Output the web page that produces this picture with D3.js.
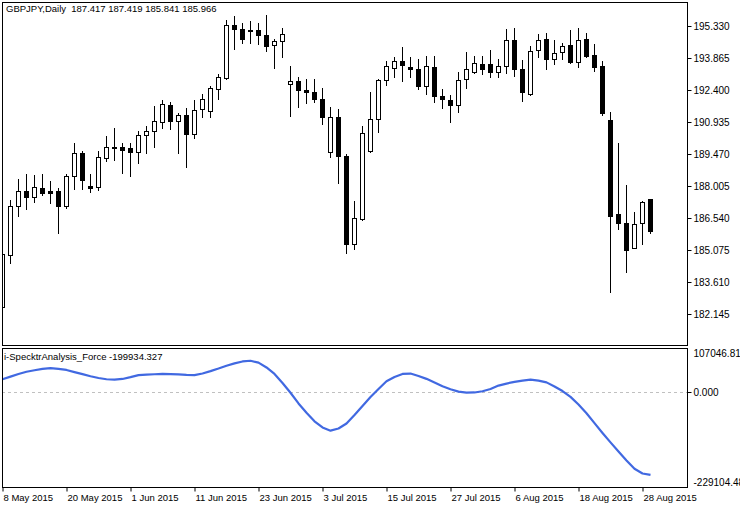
<!DOCTYPE html>
<html>
<head>
<meta charset="utf-8">
<script src="https://cdn.jsdelivr.net/npm/d3@7"></script>
<style>
  html, body { margin: 0; padding: 0; background: #ffffff; }
  svg text { font-family: "Liberation Sans", Arial, sans-serif; font-size: 9.5px; fill: #000; white-space: pre; }
  svg text.num { font-size: 10px; }
</style>
</head>
<body>
<svg id="chart" width="740" height="508"></svg>
<script>
// ---------------- data ----------------
const symbolTitle = "GBPJPY,Daily  187.417 187.419 185.841 185.966";
const indicatorTitle = "i-SpecktrAnalysis_Force -199934.327";

const openP = [
182.48, 184.83, 187.10, 187.76, 187.52, 187.90, 187.78, 187.78, 187.10, 188.45,
189.52, 188.00, 187.97, 189.27, 189.75, 189.79, 189.74, 189.58, 190.33, 190.51,
190.95, 191.71, 190.99, 191.26, 190.40, 191.52, 191.45, 192.46, 192.96, 195.36,
195.18, 195.14, 195.13, 194.90, 194.45, 194.63, 192.66, 192.81, 192.40, 192.31,
191.99, 189.55, 191.15, 189.37, 185.34, 186.49, 189.59, 191.06, 192.84, 193.42,
193.71, 193.45, 193.35, 192.57, 193.44, 192.11, 191.94, 191.70, 192.89, 193.21,
193.58, 193.58, 193.24, 193.49, 194.68, 193.35, 192.20, 194.22, 194.72, 193.81,
194.13, 194.45, 193.70, 194.72, 193.99, 193.49, 191.03, 186.71, 186.30, 185.18,
186.30, 187.417];

const highP = [
185.03, 187.35, 188.31, 188.55, 188.51, 188.55, 188.23, 187.90, 188.55, 189.97,
189.61, 188.55, 189.61, 190.29, 190.66, 189.97, 189.97, 190.52, 190.75, 191.67,
191.93, 191.84, 191.33, 191.56, 191.93, 192.22, 192.58, 193.13, 195.61, 195.80,
195.45, 195.56, 195.45, 195.83, 194.72, 195.22, 193.50, 193.00, 192.90, 192.90,
192.49, 191.61, 191.53, 189.47, 187.32, 190.75, 192.31, 192.89, 193.73, 193.91,
194.37, 193.91, 193.82, 193.94, 193.94, 192.45, 192.17, 193.22, 194.14, 193.96,
193.96, 194.23, 193.82, 195.19, 195.24, 193.76, 194.40, 194.96, 195.01, 194.68,
194.54, 195.15, 195.24, 195.00, 194.49, 193.71, 191.38, 189.96, 188.05, 186.80,
187.30, 187.419];

const lowP = [
182.47, 184.49, 186.65, 186.97, 187.29, 187.61, 187.24, 185.87, 187.01, 187.87,
187.87, 187.74, 187.84, 189.16, 189.20, 188.61, 188.46, 189.07, 189.50, 189.80,
190.67, 190.61, 189.50, 188.89, 190.22, 191.18, 191.16, 192.00, 192.90, 194.29,
194.57, 194.57, 194.52, 194.20, 193.42, 193.90, 191.22, 191.64, 191.82, 191.86,
190.86, 189.35, 188.16, 184.92, 185.11, 186.43, 189.57, 190.49, 192.62, 192.98,
192.83, 193.01, 192.46, 192.23, 191.86, 191.59, 190.95, 191.41, 192.51, 193.16,
193.12, 192.98, 193.01, 193.16, 193.05, 191.91, 192.18, 193.92, 193.38, 193.60,
193.81, 193.65, 193.47, 193.92, 193.26, 191.27, 183.14, 186.02, 184.08, 185.16,
185.34, 185.841];

const closeP = [
184.88, 187.08, 187.78, 187.52, 187.95, 187.70, 187.70, 187.10, 188.45, 189.52,
188.29, 187.93, 189.32, 189.78, 189.77, 189.64, 189.58, 190.34, 190.52, 190.97,
191.75, 190.99, 191.24, 190.40, 191.47, 191.97, 192.48, 192.98, 195.36, 195.18,
194.72, 195.12, 194.90, 194.43, 194.63, 194.95, 192.81, 192.39, 192.29, 192.00,
191.15, 191.15, 189.37, 185.36, 186.53, 190.42, 191.06, 192.84, 193.49, 193.71,
193.53, 193.35, 192.60, 193.49, 192.14, 192.00, 191.70, 192.84, 193.35, 193.62,
193.38, 193.24, 193.49, 194.68, 193.38, 192.32, 194.17, 194.68, 193.81, 194.08,
194.40, 193.70, 194.68, 193.94, 193.47, 191.36, 186.65, 186.30, 185.09, 186.25,
187.26, 185.966];

const force = [
31439, 37727, 44015, 49577, 53205, 56591, 58525, 56349, 53930, 48852,
43773, 38694, 34583, 31439, 30472, 32165, 36518, 41355, 42806, 43531,
44257, 44015, 43047, 41838, 41355, 45466, 51028, 57316, 64088, 69892,
74487, 76180, 71585, 59976, 44257, 22491, -1209, -27086, -49577, -70134,
-85128, -92867, -87546, -75454, -54898, -33132, -11366, 7981, 26602, 37002,
44257, 45224, 39420, 32407, 23700, 14510, 7255, 1451, -726, -484,
2418, 7981, 16203, 21040, 25151, 28295, 30472, 28295, 23942, 14027,
2902, -11125, -29746, -50786, -74729, -98429, -121162, -143169, -164935, -185008,
-196500, -199934.327];

const priceTicks = [195.330, 193.865, 192.400, 190.935, 189.470, 188.005, 186.540, 185.075, 183.610, 182.145];
const forceMax = 107046.813;
const forceMin = -229104.48;
const forceTickLabels = ["107046.813", "0.000", "-229104.48"];
const dateLabels = ["8 May 2015", "20 May 2015", "1 Jun 2015", "11 Jun 2015", "23 Jun 2015",
  "3 Jul 2015", "15 Jul 2015", "27 Jul 2015", "6 Aug 2015", "18 Aug 2015", "28 Aug 2015"];
const dateLabelBars = [0, 8, 16, 24, 32, 40, 48, 56, 64, 72, 80];

// ---------------- layout ----------------
const svg = d3.select("#chart");
const L = 2, R = 687;
const mainTop = 2, mainBottom = 345;
const indTop = 348, indBottom = 487;
const n = openP.length;

const x = d3.scaleLinear().domain([0, n - 1]).range([2, 2 + 8 * (n - 1)]);
const yMain = d3.scaleLinear().domain([180.726, 196.429]).range([mainBottom, mainTop]);
const yInd = d3.scaleLinear().domain([forceMin, forceMax]).range([indBottom, indTop]);

svg.append("rect").attr("width", 740).attr("height", 508).attr("fill", "#fff");

const defs = svg.append("defs");
defs.append("clipPath").attr("id", "clipMain").append("rect")
  .attr("x", L).attr("y", mainTop).attr("width", R - L).attr("height", mainBottom - mainTop);
defs.append("clipPath").attr("id", "clipInd").append("rect")
  .attr("x", L).attr("y", indTop).attr("width", R - L).attr("height", indBottom - indTop);

// ---------------- candles ----------------
const gC = svg.append("g").attr("clip-path", "url(#clipMain)");
const idx = d3.range(n);
gC.selectAll("line.wick").data(idx).enter().append("line")
  .attr("x1", i => Math.round(x(i)) + 0.5).attr("x2", i => Math.round(x(i)) + 0.5)
  .attr("y1", i => Math.round(yMain(highP[i]))).attr("y2", i => Math.round(yMain(lowP[i])) + 1)
  .attr("stroke", "#000").attr("stroke-width", 1);

idx.forEach(i => {
  const cx = Math.round(x(i));
  const top = Math.round(yMain(Math.max(openP[i], closeP[i])));
  const bot = Math.round(yMain(Math.min(openP[i], closeP[i])));
  const bull = closeP[i] >= openP[i];
  if (bot - top < 1) {
    gC.append("line").attr("x1", cx - 2).attr("x2", cx + 3)
      .attr("y1", top + 0.5).attr("y2", top + 0.5).attr("stroke", "#000").attr("stroke-width", 1);
  } else {
    gC.append("rect").attr("x", cx - 2 + 0.5).attr("y", top + 0.5)
      .attr("width", 4).attr("height", bot - top)
      .attr("fill", bull ? "#fff" : "#000").attr("stroke", "#000").attr("stroke-width", 1);
  }
});

// ---------------- indicator ----------------
svg.append("line").attr("x1", L).attr("x2", R)
  .attr("y1", Math.round(yInd(0)) + 0.5).attr("y2", Math.round(yInd(0)) + 0.5)
  .attr("stroke", "#c0c0c0").attr("stroke-width", 1).attr("stroke-dasharray", "3,3");

svg.append("g").attr("clip-path", "url(#clipInd)").append("path")
  .datum(force)
  .attr("d", d3.line().x((d, i) => x(i) + 0.5).y(d => yInd(d)))
  .attr("fill", "none").attr("stroke", "#4169e1").attr("stroke-width", 2.2)
  .attr("stroke-linejoin", "round");

// ---------------- frames ----------------
svg.append("rect").attr("x", L + 0.5).attr("y", mainTop + 0.5).attr("width", R - L).attr("height", mainBottom - mainTop)
  .attr("fill", "none").attr("stroke", "#000");
svg.append("rect").attr("x", L + 0.5).attr("y", indTop + 0.5).attr("width", R - L).attr("height", indBottom - indTop)
  .attr("fill", "none").attr("stroke", "#000");

// ---------------- axes ----------------
const priceAxis = d3.axisRight(yMain).tickValues(priceTicks).tickSize(4).tickPadding(2)
  .tickFormat(d3.format(".3f"));
const gPA = svg.append("g").attr("transform", `translate(${R + 0.5},0)`).call(priceAxis);
gPA.select(".domain").remove();
gPA.selectAll(".tick line").attr("stroke", "#000");
gPA.selectAll(".tick text").attr("fill", "#000").attr("class", "num");

const forceVals = [forceMax, 0, forceMin];
const gFA = svg.append("g");
forceVals.forEach((v, k) => {
  const yy = Math.round(yInd(v)) + 0.5;
  if (v === 0) {
    gFA.append("line").attr("x1", R + 0.5).attr("x2", R + 4.5).attr("y1", yy).attr("y2", yy).attr("stroke", "#000");
  }
  let ty = yy;
  if (k === 0) ty = yy + 5;
  if (k === 2) ty = yy - 5;
  gFA.append("text").attr("class", "num").attr("x", R + 6.5).attr("y", ty).attr("dy", "0.35em").text(forceTickLabels[k]);
});

const dateAxis = d3.axisBottom(x).tickValues(dateLabelBars).tickSize(4).tickPadding(3)
  .tickFormat((d, i) => dateLabels[i]);
const gDA = svg.append("g").attr("transform", `translate(0.5,${indBottom + 0.5})`).call(dateAxis);
gDA.select(".domain").remove();
gDA.selectAll(".tick line").attr("stroke", "#000");
gDA.selectAll(".tick text").attr("fill", "#000").attr("text-anchor", "start").attr("x", 0.5);

svg.selectAll("g").filter(function(){ return this.hasAttribute("font-family"); })
  .attr("font-family", null).attr("font-size", null);

// ---------------- titles ----------------
svg.append("text").attr("x", 6).attr("y", 9).attr("dy", "0.35em").text(symbolTitle);
svg.append("text").attr("x", 4).attr("y", 357).attr("dy", "0.35em").text(indicatorTitle);
</script>
</body>
</html>
